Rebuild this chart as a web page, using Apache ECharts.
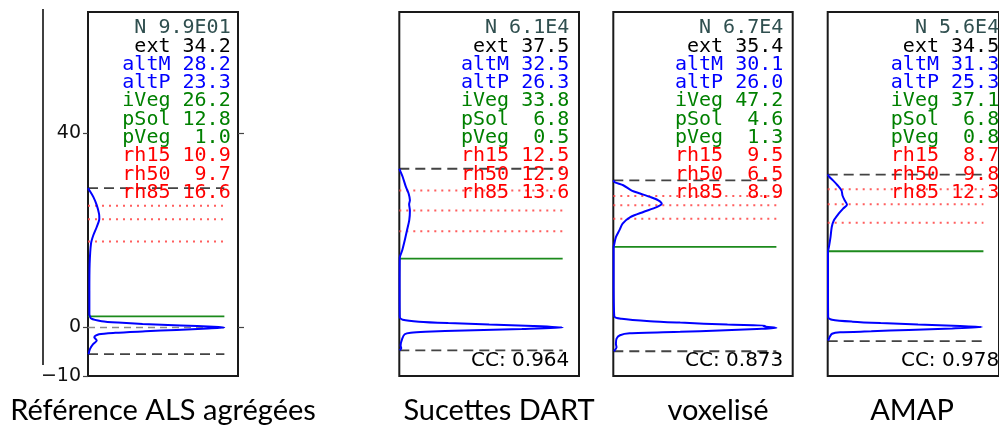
<!DOCTYPE html>
<html><head><meta charset="utf-8">
<script src="https://cdn.jsdelivr.net/npm/echarts@6/dist/echarts.min.js"></script>
<style>html,body{margin:0;padding:0;background:#fff}#c{width:999px;height:430px}</style>
</head><body><div id="c"></div><script>
// ---- data ----
const panelNames = ['Référence ALS agrégées', 'Sucettes DART', 'voxelisé', 'AMAP'];
const statNames = ['N', 'ext', 'altM', 'altP', 'iVeg', 'pSol', 'pVeg', 'rh15', 'rh50', 'rh85'];
const statN = ['9.9E01', '6.1E4', '6.7E4', '5.6E4'];
const statExt = [34.2, 37.5, 35.4, 34.5];
const statAltM = [28.2, 32.5, 30.1, 31.3];
const statAltP = [23.3, 26.3, 26.0, 25.3];
const statIVeg = [26.2, 33.8, 47.2, 37.1];
const statPSol = [12.8, 6.8, 4.6, 6.8];
const statPVeg = [1.0, 0.5, 1.3, 0.8];
const statRh15 = [10.9, 12.5, 9.5, 8.7];
const statRh50 = [9.7, 12.9, 6.5, 9.8];
const statRh85 = [16.6, 13.6, 8.9, 12.3];
const ccValues = [null, 0.964, 0.873, 0.978];

const topLevel = [28.7, 32.7, 30.3, 31.5];
const bottomLevel = [-5.5, -4.7, -4.9, -2.8];
const vegLevel = [2.3, 14.2, 16.6, 15.7];
const rhLineHigh = [25.1, 28.2, 27.1, 28.5];
const rhLineMid = [22.3, 24.1, 25.2, 25.4];
const rhLineLow = [17.7, 19.8, 22.4, 21.6];
const lineEnd = 1.0;

const yTicks = [-10, 0, 40];
const yTicksRight = [0, 40];

const wave1H = [28.7, 28.4, 26.9, 25.2, 23.4, 22.4, 20.7, 19.0, 17.3, 13.1, 7.6, 2.8, 1.8, 1.3, 1.0, 0.7, 0.4, 0.15, 0, -0.2, -0.5, -0.8, -1.1, -1.4, -2.0, -2.7, -3.4, -4.4, -5.5];
const wave1A = [0, 0.007, 0.039, 0.064, 0.081, 0.083, 0.064, 0.039, 0.022, 0.012, 0.010, 0.010, 0.025, 0.10, 0.22, 0.40, 0.68, 0.92, 1.0, 0.88, 0.65, 0.42, 0.20, 0.08, 0.046, 0.064, 0.039, 0.015, 0.004];
const wave2H = [32.7, 32.3, 31.0, 28.9, 27.6, 26.2, 25.4, 24.1, 22.1, 20.0, 17.9, 15.9, 14.4, 8.0, 2.1, 1.6, 1.2, 0.9, 0.6, 0.3, 0, -0.3, -0.6, -0.9, -1.1, -1.4, -2.3, -3.7, -4.3, -4.7];
const wave2A = [0, 0.005, 0.021, 0.041, 0.057, 0.065, 0.060, 0.065, 0.061, 0.047, 0.033, 0.018, 0.003, 0.002, 0.003, 0.021, 0.12, 0.30, 0.55, 0.82, 1.0, 0.75, 0.40, 0.16, 0.07, 0.033, 0.018, 0.008, 0.012, 0.002];
const wave3H = [30.3, 29.9, 29.3, 28.2, 27.6, 26.9, 26.2, 25.5, 24.8, 23.8, 22.7, 21.4, 20.0, 18.6, 16.9, 16.6, 10.0, 2.3, 1.8, 1.3, 1.0, 0.6, 0.4, 0.25, -0.1, -0.3, -0.6, -0.9, -1.2, -1.6, -2.3, -3.4, -4.1, -4.9];
const wave3A = [0, 0.01, 0.061, 0.113, 0.164, 0.225, 0.276, 0.297, 0.266, 0.184, 0.102, 0.057, 0.037, 0.016, 0.004, 0.002, 0.002, 0.006, 0.051, 0.225, 0.41, 0.70, 0.93, 0.92, 1.0, 0.88, 0.65, 0.41, 0.10, 0.041, 0.02, 0.016, 0.02, 0.004];
const wave4H = [31.5, 31.1, 30.3, 29.3, 28.2, 27.2, 26.2, 25.3, 24.5, 23.4, 22.1, 20.7, 18.6, 16.6, 15.7, 8.0, 2.1, 1.6, 1.2, 0.9, 0.6, 0.3, 0.1, -0.2, -0.5, -0.8, -1.0, -1.3, -2.0, -2.7];
const wave4A = [0, 0.008, 0.034, 0.063, 0.089, 0.095, 0.109, 0.124, 0.099, 0.069, 0.040, 0.026, 0.018, 0.008, 0.002, 0.002, 0.003, 0.028, 0.16, 0.34, 0.58, 0.85, 0.99, 0.80, 0.52, 0.28, 0.079, 0.028, 0.012, 0.003];

// ---- layout ----
const panelLeft = [88, 399.3, 613.3, 827.7];
const panelWidth = [150, 179.7, 179.4, 181];
const textGap = [7.3, 9.7, 9.4, 9.5];
const titleX = [163, 499, 718, 912];
const panelTop = 12, panelHeight = 364;

const waves = [[wave1H, wave1A], [wave2H, wave2A], [wave3H, wave3A], [wave4H, wave4A]];
const statColors = ['#2F4F4F', '#000000', '#0000FF', '#0000FF', '#008000', '#008000', '#008000', '#FF0000', '#FF0000', '#FF0000'];

function pad(s, n) { s = String(s); while (s.length < n) s = ' ' + s; return s; }
function statLines(p) {
  const vals = [statExt, statAltM, statAltP, statIVeg, statPSol, statPVeg, statRh15, statRh50, statRh85];
  const out = ['N ' + statN[p]];
  vals.forEach((arr, k) => out.push(statNames[k + 1] + ' ' + pad(arr[p].toFixed(1), 4)));
  return out;
}

const grids = [], xAxes = [], yAxes = [], series = [], graphics = [];
for (let p = 0; p < 4; p++) {
  grids.push({ left: panelLeft[p], top: panelTop, width: panelWidth[p], height: panelHeight,
    show: true, borderColor: '#1a1a1a', borderWidth: 2, backgroundColor: 'transparent' });
  xAxes.push({ type: 'value', gridIndex: p, min: 0, max: 1.1, show: false });
  const isFirst = p === 0;
  yAxes.push({ type: 'value', gridIndex: p, min: -10, max: 65, position: 'left',
    splitLine: { show: false },
    axisLine: { show: isFirst, lineStyle: { color: '#1a1a1a', width: 2 } },
    axisTick: { show: isFirst, length: 5, customValues: yTicks, lineStyle: { color: '#444', width: 1.2 } },
    axisLabel: { show: isFirst, customValues: yTicks, margin: 7, color: '#111',
      fontFamily: 'DejaVu Sans', fontSize: 19,
      formatter: v => (v < 0 ? '\u2212' + Math.abs(v) : String(v)) }
  });
  const xi = p, yi = p;
  const hline = (y, color, type, width, opacity, z) => ({
    type: 'line', xAxisIndex: xi, yAxisIndex: yi, data: [[0, y], [lineEnd, y]],
    showSymbol: false, silent: true, z: z,
    lineStyle: { color: color, type: type, width: width, opacity: opacity }
  });
  if (isFirst) series.push(hline(0, '#8a8a8a', [7, 5], 1.4, 1, 1));
  series.push(hline(topLevel[p], '#222', [10, 6], 1.8, 0.85, 2));
  series.push(hline(bottomLevel[p], '#222', [10, 6], 1.8, 0.85, 2));
  series.push(hline(vegLevel[p], '#1c8a1c', 'solid', 1.8, 1, 2));
  [rhLineHigh, rhLineMid, rhLineLow].forEach(arr => series.push(hline(arr[p], '#ff4d4d', [2, 5], 2, 0.9, 2)));
  const [H, A] = waves[p];
  series.push({ type: 'line', xAxisIndex: xi, yAxisIndex: yi, showSymbol: false, silent: true, z: 3,
    smooth: 0.25, data: H.map((h, i) => [A[i], h]),
    lineStyle: { color: '#0000FF', width: 2 } });

  const right = panelLeft[p] + panelWidth[p] - textGap[p];
  statLines(p).forEach((t, k) => graphics.push({ type: 'text', z: 100, x: right, y: 28 + k * 18.3,
    style: { text: t, fill: statColors[k], font: '20px "DejaVu Sans Mono"', align: 'right', verticalAlign: 'middle',
      textAlign: 'right', textVerticalAlign: 'middle' } }));
  if (ccValues[p] !== null) graphics.push({ type: 'text', z: 100, x: right, y: 361,
    style: { text: 'CC: ' + ccValues[p].toFixed(3), fill: '#000', font: '20px "DejaVu Sans"', align: 'right', verticalAlign: 'middle',
      textAlign: 'right', textVerticalAlign: 'middle' } });
  graphics.push({ type: 'text', z: 100, x: titleX[p], y: 411,
    style: { text: panelNames[p], fill: '#000', font: '29px Lato', align: 'center', verticalAlign: 'middle',
      textAlign: 'center', textVerticalAlign: 'middle' } });
}
yAxes.push({ type: 'value', gridIndex: 0, min: -10, max: 65, position: 'right',
  splitLine: { show: false }, axisLine: { show: false }, axisLabel: { show: false },
  axisTick: { show: true, length: 6, customValues: yTicksRight, lineStyle: { color: '#444', width: 1.2 } } });
graphics.push({ type: 'line', z: 100, shape: { x1: 43, y1: 9, x2: 43, y2: 365 }, style: { stroke: '#000', lineWidth: 1.5 } });

const chart = echarts.init(document.getElementById('c'), null, { renderer: 'canvas' });
chart.setOption({ animation: false, backgroundColor: '#fff', grid: grids, xAxis: xAxes, yAxis: yAxes, series: series, graphic: graphics });
</script></body></html>
